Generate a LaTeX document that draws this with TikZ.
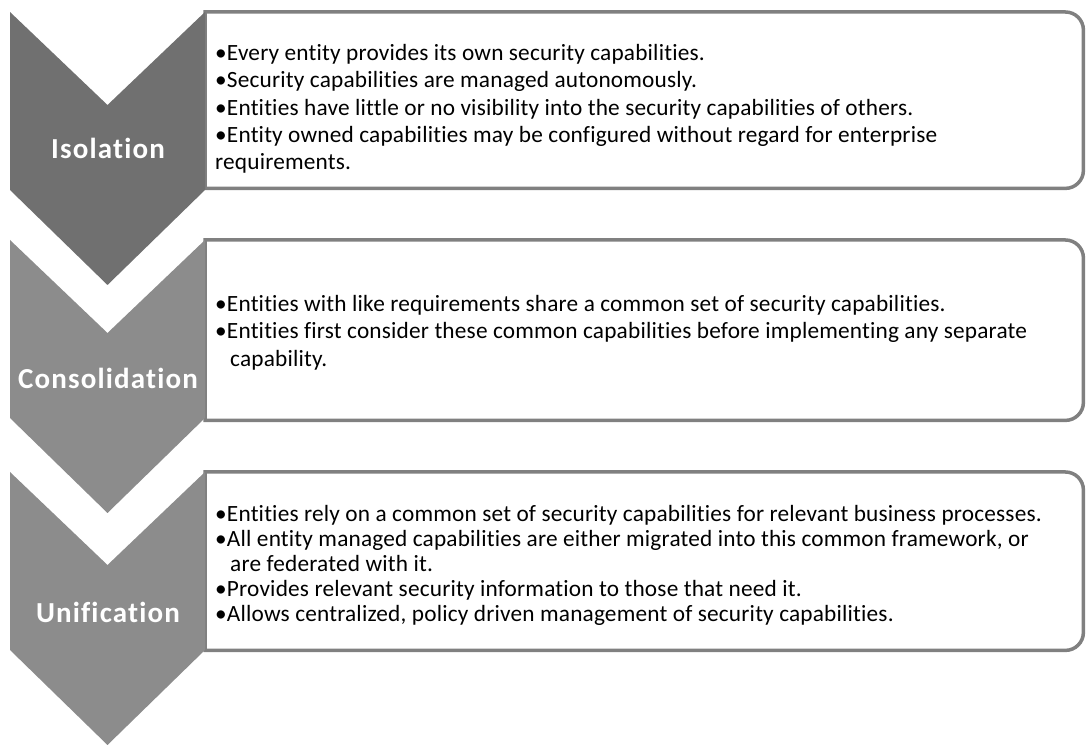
\documentclass[tikz,border=0pt]{standalone}
\usepackage{fontspec}
\setmainfont{Carlito}[Ligatures=NoCommon]
\newfontfamily\labelfont{Carlito}[Ligatures=NoCommon, LetterSpace=4]
\newfontfamily\bodyfont{Carlito}[Ligatures=NoCommon, LetterSpace=0.8]
\definecolor{chevA}{RGB}{112,112,112}
\definecolor{chevB}{RGB}{140,140,140}
\definecolor{boxline}{RGB}{128,128,128}
\tikzset{
  chevlabel/.style={text=white, font=\labelfont\fontsize{29}{32}\selectfont\bfseries, inner sep=0pt},
  itemline/.style={anchor=base west, inner sep=0pt, font=\bodyfont\fontsize{23.3}{27}\selectfont, text=black},
  boxframe/.style={draw=boxline, line width=3.5pt, fill=white},
  boxarea/.style={draw=none, inner sep=0pt, minimum width=878pt}
}
\newcommand\drawchev[2]{% #1 top y (y-up), #2 colour
  \fill[#2] (10,#1) -- (107.5,#1-93) -- (205,#1) -- (205,#1-178) -- (107.5,#1-273) -- (10,#1-178) -- cycle;}
\newcommand\drawframe[1]{%
  \draw[boxframe] (#1.north west) -- ([xshift=-18pt]#1.north east) arc[start angle=90,end angle=0,radius=18pt]
    -- ([yshift=18pt]#1.south east) arc[start angle=0,end angle=-90,radius=18pt] -- (#1.south west) -- cycle;}
\begin{document}
\begin{tikzpicture}[x=1pt,y=1pt]
\useasboundingbox (0,0) rectangle (1086,746);
% text areas
\node[boxarea, minimum height=176pt, anchor=north west] (box1) at (205,734) {};
\node[boxarea, minimum height=180pt, anchor=north west] (box2) at (205,506) {};
\node[boxarea, minimum height=178pt, anchor=north west] (box3) at (205,274) {};
\drawframe{box1}
\drawframe{box2}
\drawframe{box3}
% chevrons
\drawchev{734}{chevA}
\drawchev{506}{chevB}
\drawchev{274}{chevB}
\node[chevlabel] (lab1) at (108,598) {Isolation};
\node[chevlabel] (lab2) at (108,368) {Consolidation};
\node[chevlabel] (lab3) at (108,134) {Unification};
% box 1
\node[itemline] (a1) at (215,685.5) {•Every entity provides its own security capabilities.};
\node[itemline] (a2) at (215,658) {•Security capabilities are managed autonomously.};
\node[itemline] (a3) at (215,630.5) {•Entities have little or no visibility into the security capabilities of others.};
\node[itemline] (a4) at (215,603) {•Entity owned capabilities may be configured without regard for enterprise};
\node[itemline] (a5) at (215,576) {requirements.};
% box 2
\node[itemline] (b1) at (215,434.5) {•Entities with like requirements share a common set of security capabilities.};
\node[itemline] (b2) at (215,407) {•Entities first consider these common capabilities before implementing any separate};
\node[itemline] (b3) at (230,379.5) {capability.};
% box 3
\node[itemline] (c1) at (215,224.5) {•Entities rely on a common set of security capabilities for relevant business processes.};
\node[itemline] (c2) at (215,199.5) {•All entity managed capabilities are either migrated into this common framework, or};
\node[itemline] (c3) at (230,174.5) {are federated with it.};
\node[itemline] (c4) at (215,149.5) {•Provides relevant security information to those that need it.};
\node[itemline] (c5) at (215,124.5) {•Allows centralized, policy driven management of security capabilities.};
\end{tikzpicture}
\end{document}
